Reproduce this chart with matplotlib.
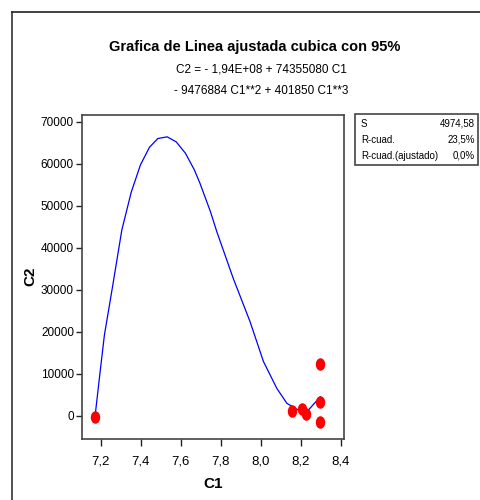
import numpy as np
import matplotlib
matplotlib.use("Agg")
import matplotlib.pyplot as plt
from matplotlib.path import Path
from matplotlib.lines import Line2D
from matplotlib import font_manager

# Datos observados
c1_obs = [7.171, 8.158, 8.206, 8.227, 8.297, 8.297, 8.297]
c2_obs = [-240, 1200, 1500, 330, 12300, 3330, -1570]

# Linea ajustada
c1_fit = [7.171, 7.195, 7.218, 7.26, 7.305, 7.352, 7.398, 7.443, 7.485, 7.532, 7.577,
          7.623, 7.668, 7.696, 7.748, 7.78, 7.862, 7.946, 8.013, 8.08, 8.13,
          8.196, 8.238, 8.297]
c2_fit = [-240, 9800, 19200, 31100, 44200, 53200, 59700, 63900, 66000, 66400, 65200,
          62500, 58500, 55300, 48600, 43800, 32700, 22400, 12900, 6500, 2950,
          1100, 1360, 4500]

x_ticks = [7.2, 7.4, 7.6, 7.8, 8.0, 8.2, 8.4]
y_ticks = [0, 10000, 20000, 30000, 40000, 50000, 60000, 70000]

titulo = "Grafica de Linea ajustada cubica con 95%"
ecuacion = ["C2 = - 1,94E+08 + 74355080 C1", "- 9476884 C1**2 + 401850 C1**3"]
stats_labels = ["S", "R-cuad.", "R-cuad.(ajustado)"]
stats_values = ["4974,58", "23,5%", "0,0%"]

nombres = {f.name for f in font_manager.fontManager.ttflist}
fuente = [n for n in ["Liberation Sans Narrow", "Liberation Sans", "DejaVu Sans"] if n in nombres]
plt.rcParams["font.family"] = fuente

fig = plt.figure(figsize=(4.8, 5), dpi=100)

# Marco de la ventana
fig.add_artist(Line2D([0.024, 0.024], [0, 0.977], color="#333333", lw=1.2))
fig.add_artist(Line2D([0.024, 1], [0.977, 0.977], color="#222222", lw=1.2))

ax = fig.add_axes([0.170, 0.123, 0.547, 0.647])

# Elipse vertical como marcador
circ = Path.unit_circle()
marker_path = Path(circ.vertices * np.array([0.72, 1.0]), circ.codes)

ax.plot(c1_fit, c2_fit, color="blue", lw=0.9)
ax.plot(c1_obs, c2_obs, linestyle="none", marker=marker_path, markersize=8,
        color="red", markeredgecolor="red")

ax.set_xlim(7.104, 8.4165)
ax.set_ylim(-5430, 71600)
ax.set_xticks(x_ticks)
ax.set_xticklabels([f"{v:.1f}".replace(".", ",") for v in x_ticks])
ax.set_yticks(y_ticks)
ax.set_yticklabels([str(v) for v in y_ticks])
ax.tick_params(axis="y", direction="out", length=4, width=1, labelsize=8.5, color="#222222", pad=1.5)
ax.tick_params(axis="x", direction="out", length=5, width=1, labelsize=9.5, color="#222222", pad=7)
for s in ax.spines.values():
    s.set_color("#444444")
    s.set_linewidth(1.2)

ax.set_xlabel("C1", fontsize=11, fontweight="bold")
ax.xaxis.set_label_coords(0.5, -0.12)
ax.set_ylabel("C2", fontsize=11, fontweight="bold")
ax.yaxis.set_label_coords(-0.17, 0.5)

fig.text(0.53, 0.905, titulo, ha="center", va="center", fontsize=10.5, fontweight="bold")
fig.text(0.545, 0.862, ecuacion[0], ha="center", va="center", fontsize=8.5)
fig.text(0.545, 0.818, ecuacion[1], ha="center", va="center", fontsize=8.5)

# Cuadro de estadisticas
fig.add_artist(plt.Rectangle((0.74, 0.67), 0.256, 0.102, transform=fig.transFigure,
                             fill=False, edgecolor="#444444", lw=1.2))
for i, (lab, val) in enumerate(zip(stats_labels, stats_values)):
    y = 0.752 - i * 0.032
    fig.text(0.752, y, lab, ha="left", va="center", fontsize=7)
    fig.text(0.99, y, val, ha="right", va="center", fontsize=7)

fig.savefig("out.png", dpi=100)
